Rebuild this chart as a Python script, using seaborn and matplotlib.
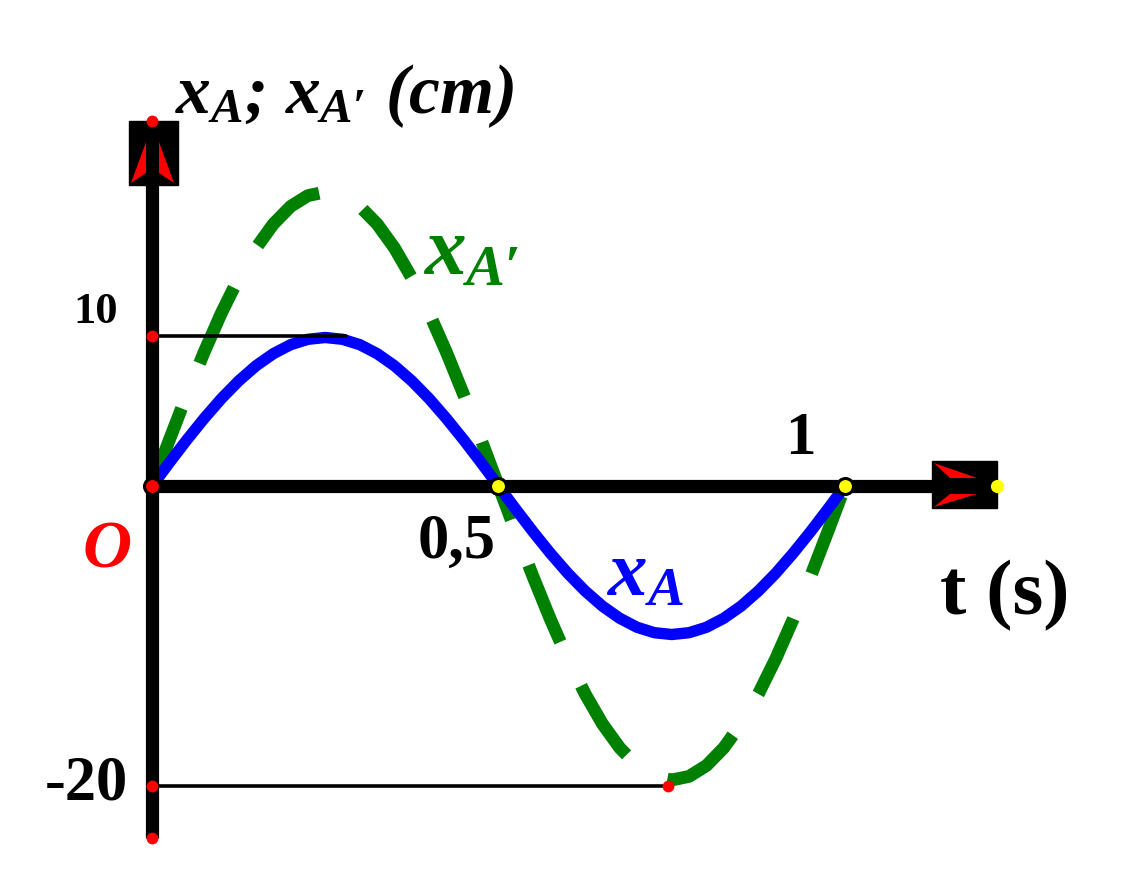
"""Sketch: x_A and x_A' vs t (two sines on a hand-drawn style axis)."""
import matplotlib
matplotlib.use('Agg')
import matplotlib.pyplot as plt
from matplotlib.patches import Polygon, Rectangle
import seaborn as sns

sns.set_theme(style='white')
plt.rcParams['font.family'] = ['Liberation Serif', 'DejaVu Serif']
plt.rcParams['mathtext.fontset'] = 'custom'
plt.rcParams['mathtext.rm'] = 'Liberation Serif:bold'
plt.rcParams['mathtext.it'] = 'Liberation Serif:italic:bold'
plt.rcParams['mathtext.bf'] = 'Liberation Serif:bold'

# --- values (t in s, elongation in cm) ---
t = [0.000, 0.025, 0.050, 0.075, 0.100, 0.125, 0.150, 0.175, 0.200, 0.225,
     0.250, 0.275, 0.300, 0.325, 0.350, 0.375, 0.400, 0.425, 0.450, 0.475,
     0.500, 0.525, 0.550, 0.575, 0.600, 0.625, 0.650, 0.675, 0.700, 0.725,
     0.750, 0.775, 0.800, 0.825, 0.850, 0.875, 0.900, 0.925, 0.950, 0.975,
     1.000]
x_a = [0.0, 1.55, 3.06, 4.49, 5.82, 7.00, 8.01, 8.82, 9.42, 9.78,
       9.9, 9.78, 9.42, 8.82, 8.01, 7.00, 5.82, 4.49, 3.06, 1.55,
       0.0, -1.55, -3.06, -4.49, -5.82, -7.00, -8.01, -8.82, -9.42, -9.78,
       -9.9, -9.78, -9.42, -8.82, -8.01, -7.00, -5.82, -4.49, -3.06, -1.55,
       0.0]
x_a_prime = [0.0, 3.07, 6.06, 8.90, 11.52, 13.86, 15.86, 17.46, 18.64, 19.36,
             19.6, 19.36, 18.64, 17.46, 15.86, 13.86, 11.52, 8.90, 6.06, 3.07,
             0.0, -3.07, -6.06, -8.90, -11.52, -13.86, -15.86, -17.46, -18.64, -19.36,
             -19.6, -19.36, -18.64, -17.46, -15.86, -13.86, -11.52, -8.90, -6.06, -3.07,
             0.0]
t_ticks = [0.5, 1]
t_tick_labels = ['0,5', '1']
x_ticks = [10, -20]
x_tick_labels = ['10', '-20']
guide_end_10 = 0.28     # where the 10 cm guide stops
guide_end_m20 = 0.745   # t of the x_A' minimum
t_axis_end = 1.219
x_axis_top, x_axis_bottom = 24.33, -23.47

# pixel frame of the reference: origin at (152, 486), 693 px per s, 15 px per cm
W, H = 1134, 881
OX, OY, SX, SY = 152, 486, 693, 15


def P(px, py):
    return (px - OX) / SX, (OY - py) / SY


fig = plt.figure(figsize=(W / 100, H / 100), dpi=100)
ax = fig.add_axes([0, 0, 1, 1])
ax.set_xlim(-OX / SX, (W - OX) / SX)
ax.set_ylim((OY - H) / SY, OY / SY)
ax.set_axis_off()

GREEN, BLUE, RED, YELLOW = '#008000', '#0000ff', '#ff0000', '#ffff00'

# curves
sns.lineplot(x=t, y=x_a_prime, ax=ax, color=GREEN, lw=9.2, sort=False,
             linestyle=(0, (6.5, 3.8)), zorder=2)
ax.lines[-1].set_dash_capstyle('butt')
sns.lineplot(x=t, y=x_a, ax=ax, color=BLUE, lw=8.2, sort=False,
             solid_capstyle='butt', solid_joinstyle='round', zorder=3)

# guides to the 10 and -20 marks
ax.plot([0, guide_end_10], [x_ticks[0]] * 2, color='black', lw=2.6, zorder=4)
ax.plot([0, guide_end_m20], [x_ticks[1]] * 2, color='black', lw=2.6, zorder=4)

# axes
ax.plot([0, P(935, 0)[0]], [0, 0], color='black', lw=9.5, solid_capstyle='butt', zorder=5)
ax.plot([0, 0], [x_axis_bottom, P(0, 150)[1]], color='black', lw=9.5,
        solid_capstyle='butt', zorder=5)

# arrow boxes
x0, y0 = P(932, 508)
x1, y1 = P(997, 461)
ax.add_patch(Rectangle((x0, y0), x1 - x0, y1 - y0, color='black', zorder=6))
ax.add_patch(Polygon([P(934, 463), P(977, 478), P(950, 478)], color=RED, lw=0, zorder=7))
ax.add_patch(Polygon([P(934, 507), P(977, 494), P(950, 494)], color=RED, lw=0, zorder=7))
x0, y0 = P(129, 185)
x1, y1 = P(178, 121)
ax.add_patch(Rectangle((x0, y0), x1 - x0, y1 - y0, color='black', zorder=6))
ax.add_patch(Polygon([P(146, 142), P(131, 183), P(146, 173)], color=RED, lw=0, zorder=7))
ax.add_patch(Polygon([P(159, 142), P(174, 183), P(159, 173)], color=RED, lw=0, zorder=7))

# dots
ax.plot([0, 0, 0, guide_end_m20], [x_ticks[0], x_ticks[1], x_axis_bottom, x_ticks[1]],
        'o', color=RED, ms=8.5, mew=0, zorder=8)
ax.plot([0], [x_axis_top], 'o', color=RED, ms=8.5, mew=0, zorder=8)
ax.plot([0], [0], 'o', mfc=RED, mec='black', ms=11.5, mew=2.2, zorder=8)
ax.plot(t_ticks, [0, 0], 'o', mfc=YELLOW, mec='black', ms=11.5, mew=2.2, zorder=8)
ax.plot([t_axis_end], [0], 'o', color=YELLOW, ms=9.5, mew=0, zorder=8)

# tick labels
bold = dict(fontweight='bold', color='black', ha='center', va='baseline', zorder=9)
ax.text(*P(96, 323), x_tick_labels[0], fontsize=32, **bold)
ax.text(*P(86, 799), x_tick_labels[1], fontsize=45, **bold)
ax.text(*P(457, 558), t_tick_labels[0], fontsize=45, **bold)
ax.text(*P(800, 454), t_tick_labels[1], fontsize=44, **bold)
ax.text(*P(1005, 614), 't (s)', fontsize=57, **bold)
ax.text(*P(107, 568), 'O', fontsize=49, fontweight='bold', fontstyle='italic',
        color=RED, ha='center', va='baseline', zorder=9)

# axis title and curve names
ax.text(*P(175, 113), r"$x_A$; $x_{A\prime}$ (cm)", fontsize=50, fontweight='bold',
        fontstyle='italic', color='black', ha='left', va='baseline', zorder=9)
ax.text(*P(423, 274), r"$x_{A\prime}$", fontsize=60, color=GREEN,
        ha='left', va='baseline', zorder=9)
ax.text(*P(607, 595), r"$x_A$", fontsize=57, color=BLUE,
        ha='left', va='baseline', zorder=9)

fig.savefig('out.png', dpi=100)
